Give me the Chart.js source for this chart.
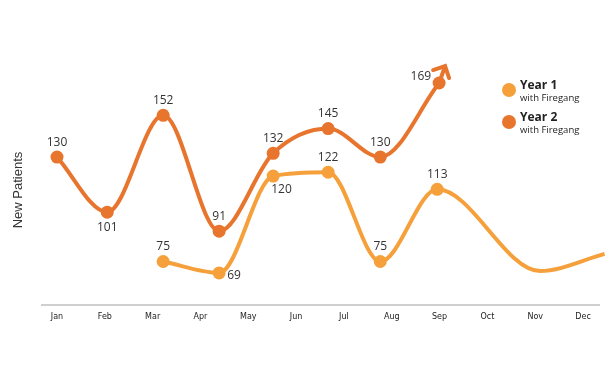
<!DOCTYPE html>
<html>
<head>
<meta charset="utf-8">
<script src="https://cdn.jsdelivr.net/npm/chart.js@4.4.1/dist/chart.umd.min.js"></script>
<style>
  html, body { margin: 0; padding: 0; background: #fff; }
  #wrap { width: 606px; height: 383px; position: relative; }
</style>
</head>
<body>
<div id="wrap"><canvas id="c" width="606" height="383"></canvas></div>
<script>
// ---- data ----
const months = ['Jan','Feb','Mar','Apr','May','Jun','Jul','Aug','Sep','Oct','Nov','Dec'];
// x positions are in month units (0 = Jan)
const year1X = [2.22, 3.39, 4.52, 5.67, 6.76, 7.95, 10.1, 11.45];
const year1Values = [75, 69, 120, 122, 75, 113, 70, 79];
const year1Marked = [true, true, true, true, true, true, false, false];
const year2X = [0, 1.05, 2.22, 3.39, 4.52, 5.67, 6.76, 7.99];
const year2Values = [130, 101, 152, 91, 132, 145, 130, 169];
const seriesNames = ['Year 1', 'Year 2'];
const seriesSub = 'with Firegang';
const yTitle = 'New Patients';
// label placement per point
const year1LabelPos = ['above','right','belowRight','above','above','above',null,null];
const year2LabelPos = ['above','below','above','above','above','above','above','left'];

const c1 = '#F5A03B';
const c2 = '#E8752D';

function pts(xs, ys) { return xs.map((x, i) => ({ x: x, y: ys[i] })); }

const labelPlugin = {
  id: 'labels',
  afterDatasetsDraw(chart) {
    const ctx = chart.ctx;
    ctx.save();
    ctx.font = '12px "Open Sans", sans-serif';
    ctx.fillStyle = '#333';
    const sets = [
      { meta: chart.getDatasetMeta(0), vals: year1Values, pos: year1LabelPos },
      { meta: chart.getDatasetMeta(1), vals: year2Values, pos: year2LabelPos }
    ];
    sets.forEach(s => {
      s.meta.data.forEach((el, i) => {
        const p = s.pos[i];
        if (!p) return;
        let x = el.x, y = el.y;
        ctx.textAlign = 'center';
        ctx.textBaseline = 'middle';
        if (p === 'above') { y -= 15; }
        else if (p === 'below') { y += 15; }
        else if (p === 'right') { ctx.textAlign = 'left'; x += 8; y += 3; }
        else if (p === 'belowRight') { ctx.textAlign = 'left'; x -= 2; y += 14; }
        else if (p === 'left') { ctx.textAlign = 'right'; x -= 8; y -= 6; }
        ctx.fillText(String(s.vals[i]), x, y);
      });
    });
    // arrow on Year 2 end
    const m2 = chart.getDatasetMeta(1).data;
    const b = m2[m2.length - 1];
    const tipX = b.x + 6, tipY = b.y - 17;
    ctx.strokeStyle = c2;
    ctx.lineWidth = 4;
    ctx.lineCap = 'round';
    ctx.lineJoin = 'miter';
    ctx.beginPath();
    ctx.moveTo(b.x, b.y);
    ctx.lineTo(tipX - 1, tipY + 3);
    ctx.stroke();
    ctx.beginPath();
    ctx.moveTo(tipX - 12, tipY + 4);
    ctx.lineTo(tipX, tipY);
    ctx.lineTo(tipX + 4, tipY + 12);
    ctx.stroke();
    // y title
    ctx.save();
    ctx.translate(18, 190);
    ctx.rotate(-Math.PI / 2);
    ctx.font = '13px "Liberation Sans", Arial, sans-serif';
    ctx.fillStyle = '#333';
    ctx.textAlign = 'center';
    ctx.textBaseline = 'middle';
    ctx.fillText(yTitle, 0, 0);
    ctx.restore();
    // legend
    const cols = [c1, c2];
    seriesNames.forEach((n, i) => {
      const y0 = 90 + i * 32;
      ctx.fillStyle = cols[i];
      ctx.beginPath();
      ctx.arc(509, y0, 7, 0, Math.PI * 2);
      ctx.fill();
      ctx.fillStyle = '#222';
      ctx.textAlign = 'left';
      ctx.textBaseline = 'middle';
      ctx.font = 'bold 12px "Open Sans", sans-serif';
      ctx.fillText(n, 520, y0 - 4);
      ctx.font = '9.5px "Open Sans", sans-serif';
      ctx.fillText(seriesSub, 520, y0 + 8);
    });
    ctx.restore();
  }
};

new Chart(document.getElementById('c'), {
  type: 'line',
  data: {
    datasets: [
      {
        label: seriesNames[0],
        data: pts(year1X, year1Values),
        borderColor: c1, backgroundColor: c1,
        borderWidth: 4,
        pointRadius: year1Marked.map(m => m ? 6.5 : 0),
        pointBorderWidth: 0,
        cubicInterpolationMode: 'monotone',
        clip: false
      },
      {
        label: seriesNames[1],
        data: pts(year2X, year2Values),
        borderColor: c2, backgroundColor: c2,
        borderWidth: 4,
        pointRadius: 6.5,
        pointBorderWidth: 0,
        cubicInterpolationMode: 'monotone',
        clip: false
      }
    ]
  },
  options: {
    responsive: false,
    animation: false,
    events: [],
    layout: { padding: { left: 42, right: 0, top: 0, bottom: 54.4 } },
    plugins: { legend: { display: false }, tooltip: { enabled: false } },
    scales: {
      x: {
        type: 'linear',
        min: -0.314, max: 11.344,
        afterBuildTicks(scale) { scale.ticks = months.map((m, i) => ({ value: i })); },
        ticks: {
          autoSkip: false, maxRotation: 0,
          callback: v => months[v],
          font: { size: 8, family: '"DejaVu Sans", sans-serif' },
          color: '#222',
          padding: 7
        },
        grid: { display: false, drawTicks: false },
        border: { display: true, color: '#cfcfcf', width: 2 }
      },
      y: {
        display: false,
        min: 52.1, max: 209.3
      }
    }
  },
  plugins: [labelPlugin]
});
</script>
</body>
</html>
